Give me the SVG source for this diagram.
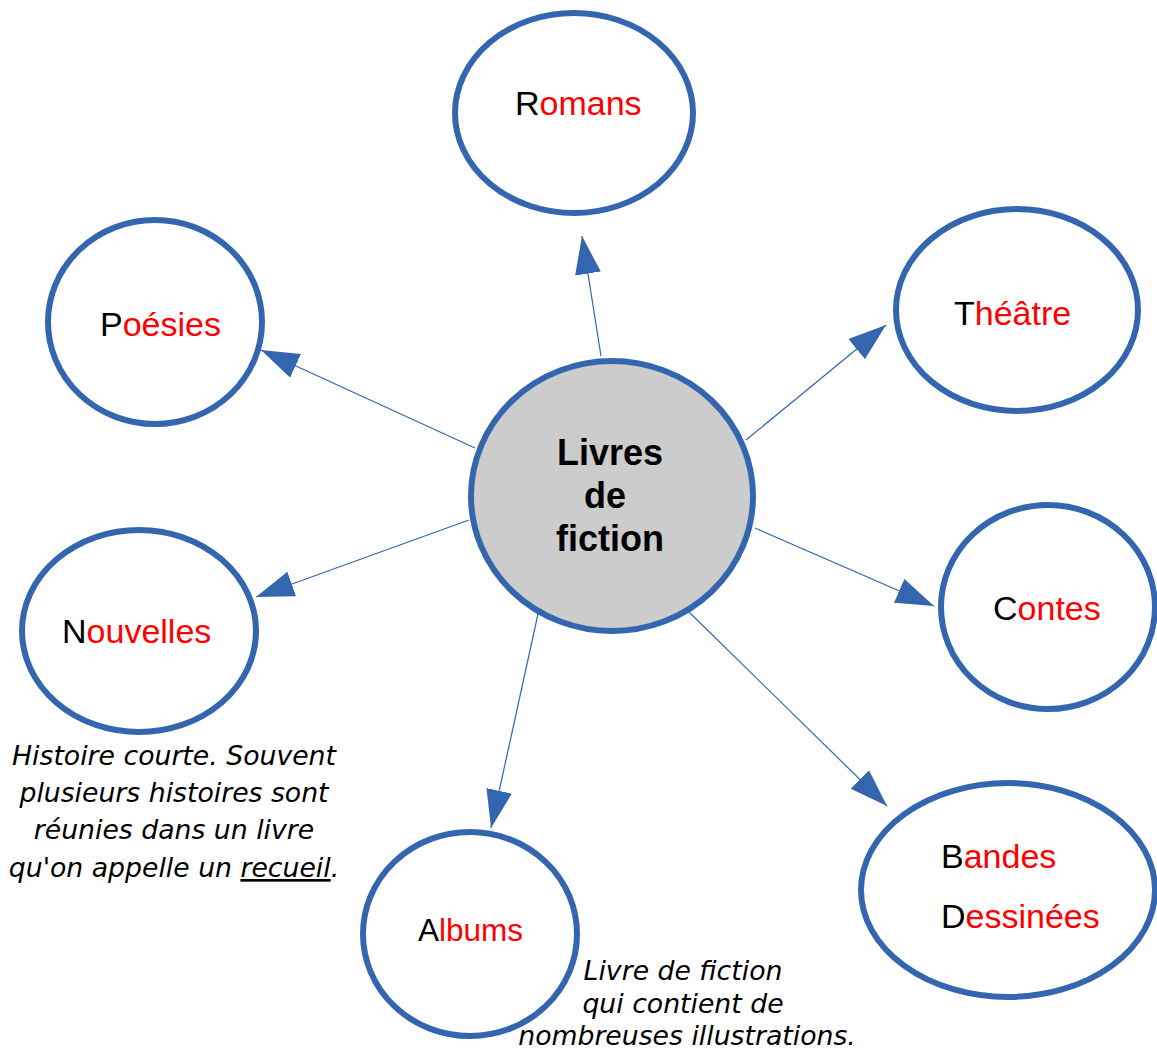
<svg xmlns="http://www.w3.org/2000/svg" width="1157" height="1049" viewBox="0 0 1157 1049">
<style>
.node{fill:#ffffff;stroke:#3466b0;stroke-width:6}
.center{fill:#cccccc;stroke:#3466b0;stroke-width:6}
.lbl{font-family:"Liberation Sans",Arial,sans-serif;font-size:34px;fill:#ff0000}
.k{fill:#000000}
.ctr{font-family:"Liberation Sans",Arial,sans-serif;font-size:36px;font-weight:bold;fill:#000000}
.note{font-family:"DejaVu Sans",Verdana,sans-serif;font-size:26.7px;font-style:italic;fill:#000000}
.conn{stroke:#3466b0;stroke-width:1.2;fill:none;marker-end:url(#arr)}
</style>
<defs>
<marker id="arr" markerUnits="userSpaceOnUse" markerWidth="40" markerHeight="28" refX="38" refY="13" orient="auto">
<path d="M0,0 L38,13 L0,26 z" fill="#3466b0"/>
</marker>
</defs>
<rect width="1157" height="1049" fill="#ffffff"/>
<g id="connectors">
<line class="conn" x1="601" y1="356" x2="582" y2="236"/>
<line class="conn" x1="475" y1="448" x2="261" y2="350"/>
<line class="conn" x1="746" y1="440" x2="886" y2="325"/>
<line class="conn" x1="755" y1="528" x2="934" y2="606"/>
<line class="conn" x1="469" y1="520" x2="256" y2="597"/>
<line class="conn" x1="538" y1="614" x2="491" y2="828"/>
<line class="conn" x1="689" y1="612" x2="887" y2="806"/>
</g>
<g id="center">
<ellipse class="center" cx="612" cy="496" rx="141" ry="135"/>
<text class="ctr" text-anchor="middle"><tspan x="610" y="465">Livres</tspan><tspan x="605" y="508">de</tspan><tspan x="610" y="551">fiction</tspan></text>
</g>
<g id="romans">
<ellipse class="node" cx="574" cy="113" rx="119" ry="100"/>
<text class="lbl" x="515" y="115"><tspan class="k">R</tspan>omans</text>
</g>
<g id="poesies">
<ellipse class="node" cx="155" cy="322" rx="107" ry="102"/>
<text class="lbl" x="100" y="336"><tspan class="k">P</tspan>oésies</text>
</g>
<g id="theatre">
<ellipse class="node" cx="1017" cy="310" rx="121" ry="101"/>
<text class="lbl" x="954" y="325"><tspan class="k">T</tspan>héâtre</text>
</g>
<g id="contes">
<ellipse class="node" cx="1048" cy="607" rx="107" ry="102"/>
<text class="lbl" x="993" y="620"><tspan class="k">C</tspan>ontes</text>
</g>
<g id="nouvelles">
<ellipse class="node" cx="139" cy="631" rx="117" ry="101"/>
<text class="lbl" x="62" y="643"><tspan class="k">N</tspan>ouvelles</text>
</g>
<g id="albums">
<ellipse class="node" cx="470" cy="934" rx="107" ry="102"/>
<text class="lbl" x="418" y="941" style="font-size:31.5px"><tspan class="k">A</tspan>lbums</text>
</g>
<g id="bd">
<ellipse class="node" cx="1008" cy="890" rx="147" ry="107"/>
<text class="lbl" x="941" y="868"><tspan class="k">B</tspan>andes</text>
<text class="lbl" x="941" y="928"><tspan class="k">D</tspan>essinées</text>
</g>
<g id="note-nouvelles">
<text class="note" text-anchor="middle"><tspan x="174" y="765">Histoire courte. Souvent</tspan><tspan x="174" y="802">plusieurs histoires sont</tspan><tspan x="174" y="839">réunies dans un livre</tspan><tspan x="174" y="877">qu'on appelle un <tspan text-decoration="underline">recueil</tspan>.</tspan></text>
</g>
<g id="note-albums">
<text class="note" text-anchor="middle"><tspan x="683" y="980">Livre de fiction</tspan><tspan x="683" y="1013">qui contient de</tspan><tspan x="687" y="1045">nombreuses illustrations.</tspan></text>
</g>
</svg>
